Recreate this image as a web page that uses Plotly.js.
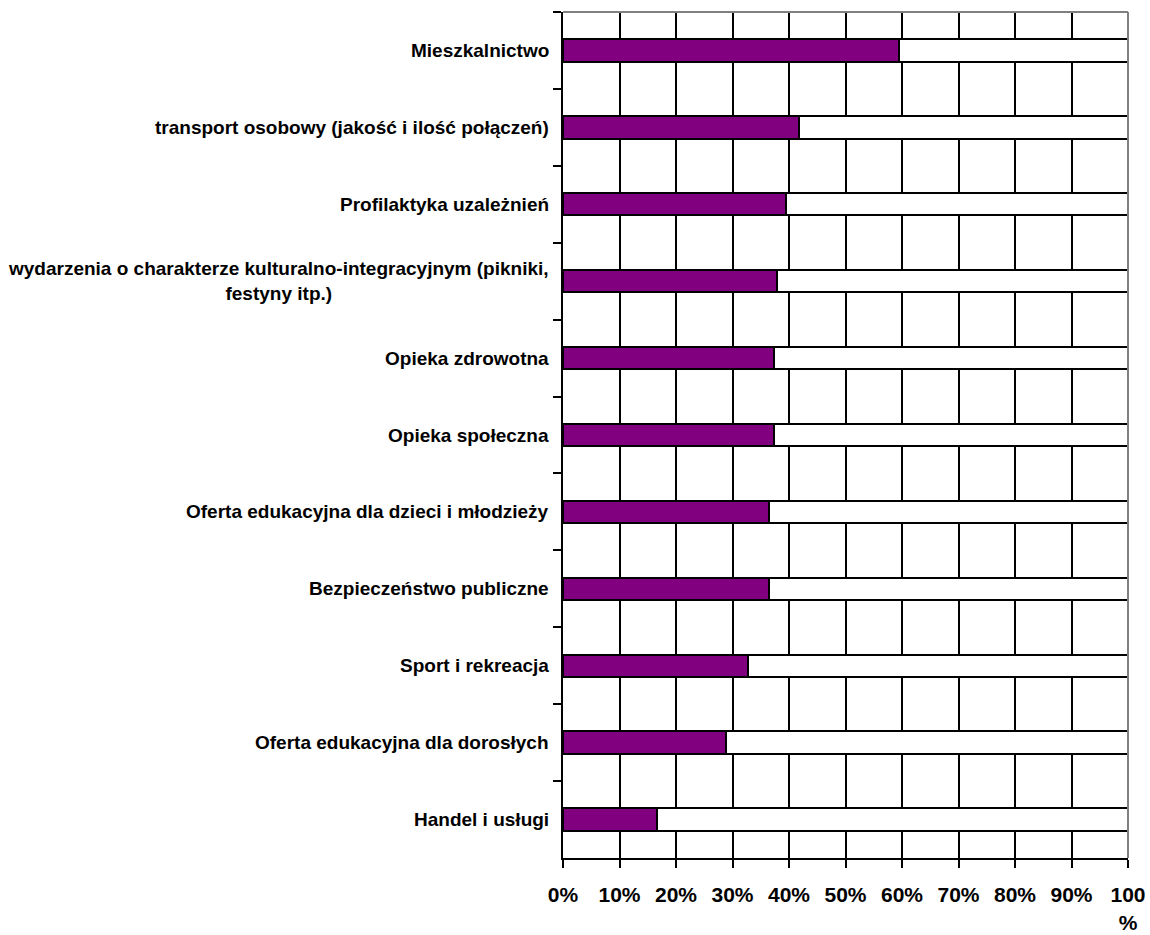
<!DOCTYPE html>
<html>
<head>
<meta charset="utf-8">
<script src="https://cdn.plot.ly/plotly-3.0.1.min.js"></script>
<style>
  html, body { margin: 0; padding: 0; background: #ffffff; }
  #chart { width: 1150px; height: 935px; }
</style>
</head>
<body>
<div id="chart"></div>
<script>
const categories = [
  "Mieszkalnictwo",
  "transport osobowy (jakość i ilość połączeń)",
  "Profilaktyka uzależnień",
  "wydarzenia o charakterze kulturalno-integracyjnym (pikniki,<br>festyny itp.)",
  "Opieka zdrowotna",
  "Opieka społeczna",
  "Oferta edukacyjna dla dzieci i młodzieży",
  "Bezpieczeństwo publiczne",
  "Sport i rekreacja",
  "Oferta edukacyjna dla dorosłych",
  "Handel i usługi"
];
const shareYes = [59.5, 41.8, 39.4, 37.9, 37.3, 37.3, 36.5, 36.5, 32.7, 28.8, 16.6];
const shareRest = shareYes.map(v => 100 - v);
const tickValues = [0, 10, 20, 30, 40, 50, 60, 70, 80, 90, 100];
const tickLabels = ["0%", "10%", "20%", "30%", "40%", "50%", "60%", "70%", "80%", "90%", "100<br>%"];

const FONT = '"Liberation Sans", Arial, sans-serif';

const traces = [
  {
    type: 'bar', orientation: 'h',
    y: categories, x: shareYes,
    marker: { color: '#800080', line: { color: '#000000', width: 2 } },
    hoverinfo: 'x+y', showlegend: false
  },
  {
    type: 'bar', orientation: 'h',
    y: categories, x: shareRest,
    marker: { color: '#ffffff', line: { color: '#000000', width: 2 } },
    hoverinfo: 'x+y', showlegend: false
  }
];

const annotations = categories.map(c => ({
  xref: 'paper', yref: 'y', x: 0, y: c,
  text: c, showarrow: false,
  xanchor: 'right', yanchor: 'middle', align: 'center',
  xshift: -12,
  font: { family: FONT, size: 19, color: '#000000', weight: 'bold' }
}));

const layout = {
  width: 1150, height: 935,
  margin: { l: 563, r: 22, t: 12, b: 77, pad: 0 },
  paper_bgcolor: '#ffffff', plot_bgcolor: '#ffffff',
  barmode: 'stack', bargap: 0.71,
  showlegend: false,
  xaxis: {
    range: [0, 100], fixedrange: true,
    tickvals: tickValues, ticktext: tickLabels,
    showgrid: true, gridcolor: '#000000', gridwidth: 2,
    zeroline: false,
    showline: true, linecolor: '#000000', linewidth: 2,
    ticks: 'outside', ticklen: 8, tickwidth: 2, tickcolor: '#000000',
    ticklabelstandoff: 9,
    tickfont: { family: FONT, size: 21, color: '#000000', weight: 'bold' }
  },
  yaxis: {
    type: 'category', autorange: 'reversed', fixedrange: true,
    showgrid: false, zeroline: false,
    showline: true, linecolor: '#000000', linewidth: 2,
    ticks: 'outside', tickson: 'boundaries', ticklen: 8, tickwidth: 2, tickcolor: '#000000',
    showticklabels: false
  },
  annotations: annotations,
  shapes: [
    { type: 'line', xref: 'paper', yref: 'paper', x0: 0, x1: 1, y0: 1, y1: 1,
      line: { color: '#808080', width: 2 } },
    { type: 'line', xref: 'paper', yref: 'paper', x0: 1, x1: 1, y0: 0, y1: 1,
      line: { color: '#808080', width: 2 } }
  ]
};

Plotly.newPlot('chart', traces, layout, { displayModeBar: false, staticPlot: true });
</script>
</body>
</html>
